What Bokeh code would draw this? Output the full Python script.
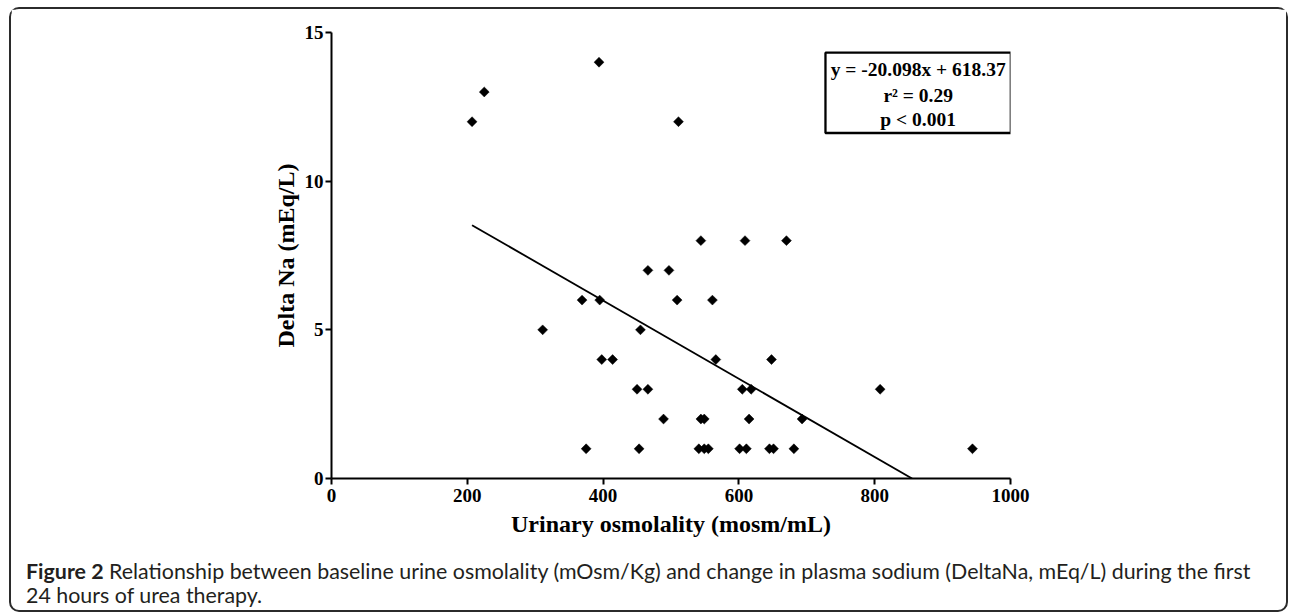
from bokeh.plotting import figure
from bokeh.layouts import column
from bokeh.models import FixedTicker, Label, BoxAnnotation, Range1d, Div
from bokeh.embed import file_html
from bokeh.resources import INLINE

# ---- data ----
urine_osm = [375, 453, 541, 549, 555, 601, 611, 645, 651, 681, 944,
             489, 544, 549, 615, 693,
             450, 466, 605, 618, 808,
             398, 414, 566, 648,
             311, 455,
             369, 395, 509, 561,
             466, 497,
             544, 609, 670,
             207, 511, 225, 394]
delta_na = [1, 1, 1, 1, 1, 1, 1, 1, 1, 1, 1,
            2, 2, 2, 2, 2,
            3, 3, 3, 3, 3,
            4, 4, 4, 4,
            5, 5,
            6, 6, 6, 6,
            7, 7,
            8, 8, 8,
            12, 12, 13, 14]
fit_x = [207, 855]
fit_y = [8.52, 0.0]
x_ticks = [0, 200, 400, 600, 800, 1000]
y_ticks = [0, 5, 10, 15]
stats_lines = ["y = -20.098x + 618.37", "r\u00b2 = 0.29", "p < 0.001"]
caption_bold = "Figure 2"
caption_line1 = ("Relationship between baseline urine osmolality (mOsm/Kg) and change in plasma "
                 "sodium (DeltaNa, mEq/L) during the first")
caption_line2 = "24 hours of urea therapy."

SERIF = "Liberation Serif"
SANS = "Lato"
CAP_COLOR = "#231f20"
W = 1275

p = figure(width=W, height=538,
           x_range=Range1d(0, 1000), y_range=Range1d(0, 15),
           output_backend="svg", toolbar_location=None,
           min_border_left=320, min_border_right=276,
           min_border_top=23, min_border_bottom=69)
p.outline_line_color = None
p.grid.visible = False
p.background_fill_color = "white"
p.border_fill_color = "white"

p.xaxis.ticker = FixedTicker(ticks=x_ticks)
p.yaxis.ticker = FixedTicker(ticks=y_ticks)
p.xaxis.axis_label = "Urinary osmolality (mosm/mL)"
p.yaxis.axis_label = "Delta Na (mEq/L)"

for ax in (p.xaxis[0], p.yaxis[0]):
    ax.axis_line_width = 2
    ax.axis_line_color = "black"
    ax.major_tick_line_width = 2
    ax.major_tick_line_color = "black"
    ax.major_tick_out = 6
    ax.major_tick_in = 0
    ax.minor_tick_out = 0
    ax.minor_tick_in = 0
    ax.major_label_text_font = SERIF
    ax.major_label_text_font_style = "bold"
    ax.major_label_text_font_size = "19px"
    ax.major_label_text_color = "black"
    ax.axis_label_text_font = SERIF
    ax.axis_label_text_font_style = "bold"
    ax.axis_label_text_font_size = "24px"
    ax.axis_label_text_color = "black"

p.xaxis.major_label_standoff = 4
p.yaxis.major_label_standoff = 2
p.xaxis.axis_label_standoff = 6
p.yaxis.axis_label_standoff = 3

# regression line
p.line(fit_x, fit_y, line_color="black", line_width=1.8)

# data points (diamonds)
p.scatter(urine_osm, delta_na, marker="square", size=7, angle=0.7853981634,
          fill_color="black", line_color="black", line_width=0.5)

# statistics box
p.add_layout(BoxAnnotation(left=727.5, right=1000.5, top=14.32, bottom=11.62,
                           fill_color="white", fill_alpha=1.0,
                           line_color="black", line_alpha=1.0, line_width=2.3))
for txt, yy in zip(stats_lines, [13.77, 12.89, 12.08]):
    p.add_layout(Label(x=864, y=yy, text=txt, text_align="center", text_baseline="middle",
                       text_font=SERIF, text_font_style="bold", text_font_size="19.5px",
                       text_color="black"))

# caption (real HTML text below the chart)
caption_html = (
    f'<div style="font-family:{SANS};font-size:21.4px;line-height:24px;color:{CAP_COLOR};'
    f'white-space:nowrap;margin:0;padding:12px 0 0 15px;">'
    f'<b>{caption_bold}</b> {caption_line1}<br>{caption_line2}</div>'
)
cap = Div(text=caption_html, width=W, height=63, margin=0)

layout = column(p, cap, spacing=0)
layout.styles = {"margin": "7px 0 0 9px", "border": "2px solid #2b2b2b",
                 "border-radius": "10px"}

open("out.html", "w").write(file_html(layout, INLINE))
